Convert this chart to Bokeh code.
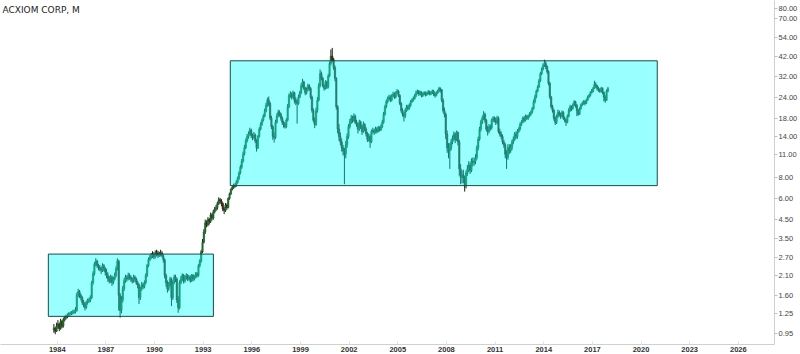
from bokeh.plotting import figure
from bokeh.models import Range1d, FixedTicker, PrintfTickFormatter, Label, ColumnDataSource
from bokeh.embed import file_html
from bokeh.resources import INLINE

title_text = "ACXIOM CORP, M"
start_year = 1983
start_month = 10
first_open = 1.00

# monthly closes, Oct 1983 .. Dec 2017
closes = [
    1.02, 0.98, 1.05,
    1.08, 1.02, 1.12, 1.05, 1.15, 1.18, 1.2, 1.22, 1.24, 1.25, 1.26, 1.27,
    1.28, 1.3, 1.62, 1.68, 1.6, 1.55, 1.45, 1.42, 1.35, 1.45, 1.48, 1.5,
    1.55, 1.9, 2.15, 2.45, 2.55, 2.4, 2.35, 2.3, 2.25, 2.4, 2.3, 2.2,
    2.1, 2.0, 1.95, 2.05, 1.9, 2.0, 2.1, 2.3, 2.55, 1.6, 1.3, 1.5,
    1.75, 1.95, 2.05, 2.0, 2.1, 2.05, 2.0, 1.95, 2.05, 2.0, 1.9, 1.85,
    1.55, 1.75, 1.85, 1.8, 1.9, 2.1, 2.4, 2.6, 2.7, 2.75, 2.8, 2.7,
    2.8, 2.85, 2.75, 2.8, 2.85, 2.75, 2.6, 2.1, 1.9, 1.75, 1.85, 2.0,
    1.55, 1.9, 2.05, 2.0, 1.5, 1.35, 1.9, 2.0, 2.1, 1.95, 2.05, 2.1,
    2.0, 2.05, 1.95, 2.1, 2.0, 2.05, 2.15, 2.1, 2.4, 2.55, 2.9, 3.3,
    3.8, 4.3, 4.2, 4.5, 4.4, 4.8, 4.6, 5.0, 5.2, 5.3, 5.6, 5.9,
    5.8, 5.6, 5.2, 5.1, 5.5, 5.3, 6.0, 6.4, 6.8, 7.0, 7.1, 7.2,
    7.5, 7.9, 8.5, 9.2, 10.0, 11.0, 12.0, 13.2, 14.0, 14.5, 15.3, 14.2,
    13.8, 14.3, 13.2, 12.0, 14.0, 15.5, 16.5, 17.5, 18.5, 19.8, 21.5, 23.0,
    22.0, 18.0, 16.0, 14.0, 13.8, 17.0, 18.5, 19.5, 19.0, 18.0, 17.0, 16.5,
    16.0, 17.5, 21.0, 24.5, 25.0, 24.0, 25.5, 23.0, 22.5, 22.0, 24.0, 25.5,
    28.0, 29.5, 27.0, 25.5, 26.5, 28.0, 27.0, 24.0, 20.0, 17.5, 16.5, 20.0,
    23.0, 28.0, 33.0, 31.0, 28.0, 27.0, 29.5, 27.5, 32.0, 38.0, 42.0, 40.0,
    36.0, 31.0, 21.0, 15.5, 14.0, 13.0, 12.0, 11.5, 11.0, 12.5, 14.0, 16.0,
    17.0, 18.0, 17.5, 18.5, 17.0, 16.5, 15.5, 17.0, 16.0, 15.0, 16.5, 15.5,
    14.5, 13.5, 14.0, 13.0, 15.0, 15.2, 14.8, 15.5, 15.0, 15.8, 15.3, 16.0,
    17.0, 19.0, 21.0, 22.5, 23.5, 24.0, 23.0, 24.5, 25.0, 24.0, 25.5, 26.0,
    24.5, 22.0, 20.0, 19.0, 18.5, 20.0, 21.0, 20.5, 21.5, 22.5, 23.0, 23.5,
    24.5, 25.5, 26.0, 25.0, 25.5, 24.5, 25.0, 25.5, 24.8, 25.3, 25.8, 25.0,
    25.5, 26.0, 25.0, 24.5, 25.5, 26.0, 27.0, 26.5, 23.0, 20.0, 19.0, 14.5,
    12.0, 11.5, 12.0, 13.0, 13.5, 14.5, 13.5, 14.8, 13.0, 9.0, 8.0, 8.3,
    8.0, 7.2, 8.5, 9.0, 9.5, 8.8, 10.0, 9.8, 10.0, 10.5, 12.0, 13.5,
    15.5, 17.0, 18.0, 19.0, 17.5, 15.5, 15.0, 16.0, 15.8, 17.5, 18.0, 17.5,
    17.0, 18.0, 15.0, 14.5, 14.0, 13.0, 12.5, 11.0, 10.5, 12.0, 11.5, 12.0,
    13.0, 13.5, 14.5, 14.0, 15.0, 15.5, 16.5, 17.0, 18.0, 17.5, 18.5, 18.0,
    18.5, 19.0, 19.5, 20.5, 22.5, 24.0, 26.0, 27.5, 30.0, 33.0, 35.0, 37.0,
    38.0, 36.5, 34.0, 29.0, 24.0, 21.0, 20.0, 18.0, 17.0, 18.5, 19.5, 19.0,
    18.5, 19.5, 18.0, 17.5, 17.0, 18.5, 20.0, 21.0, 20.5, 21.5, 22.5, 21.5,
    20.0, 19.0, 20.5, 21.5, 22.0, 22.5, 22.0, 23.0, 24.0, 24.5, 25.5, 26.0,
    27.0, 28.5, 28.0, 27.0, 26.5, 26.0, 27.0, 25.5, 24.0, 23.0, 26.0, 27.0,
]

highs = [
    1.08, 1.04, 1.1,
    1.14, 1.1, 1.16, 1.14, 1.18, 1.21, 1.23, 1.25, 1.27, 1.28, 1.29, 1.31,
    1.32, 1.36, 1.66, 1.75, 1.72, 1.64, 1.58, 1.5, 1.46, 1.49, 1.53, 1.55,
    1.6, 1.95, 2.22, 2.52, 2.65, 2.6, 2.46, 2.42, 2.36, 2.48, 2.45, 2.35,
    2.3, 2.18, 2.08, 2.12, 2.1, 2.06, 2.18, 2.38, 2.65, 2.6, 1.65, 1.58,
    1.82, 2.02, 2.12, 2.1, 2.18, 2.16, 2.1, 2.04, 2.12, 2.1, 2.04, 1.95,
    1.88, 1.8, 1.92, 1.9, 1.96, 2.16, 2.45, 2.68, 2.78, 2.85, 2.92, 2.88,
    2.95, 2.98, 2.94, 2.9, 2.98, 2.92, 2.8, 2.65, 2.15, 1.96, 1.92, 2.06,
    2.04, 1.96, 2.12, 2.12, 2.04, 1.58, 1.96, 2.08, 2.16, 2.14, 2.1, 2.16,
    2.14, 2.1, 2.1, 2.14, 2.14, 2.1, 2.2, 2.2, 2.45, 2.62, 2.98, 3.45,
    3.95, 4.5, 4.45, 4.65, 4.6, 4.95, 4.9, 5.15, 5.35, 5.5, 5.75, 6.1,
    6.05, 5.95, 5.7, 5.35, 5.65, 5.6, 6.1, 6.5, 6.9, 7.15, 7.35, 7.4,
    7.7, 8.1, 8.7, 9.5, 10.3, 11.4, 12.5, 13.6, 14.5, 15.0, 15.8, 15.6,
    14.6, 14.9, 14.6, 13.5, 14.3, 15.9, 17.0, 17.9, 19.0, 20.5, 22.2, 23.8,
    24.2, 22.5, 18.6, 16.4, 14.8, 17.6, 19.2, 20.2, 20.0, 19.4, 18.4, 17.4,
    17.0, 18.0, 21.8, 25.2, 26.0, 25.6, 26.2, 25.8, 24.0, 23.4, 24.8, 26.2,
    29.0, 30.8, 30.0, 27.6, 27.4, 28.8, 28.6, 27.5, 24.5, 20.6, 18.2, 20.8,
    24.0, 29.0, 35.0, 34.0, 31.6, 28.6, 30.2, 30.0, 33.0, 39.0, 46.0, 47.0,
    41.0, 37.0, 31.5, 21.5, 16.6, 14.8, 13.6, 12.5, 12.0, 13.2, 14.6, 16.6,
    17.8, 18.8, 18.6, 19.2, 18.9, 17.6, 16.9, 17.6, 17.4, 16.4, 17.2, 16.8,
    15.9, 14.9, 14.6, 14.4, 15.4, 15.8, 15.6, 16.0, 15.9, 16.2, 16.1, 16.5,
    17.6, 19.6, 21.6, 23.2, 24.2, 24.8, 24.6, 25.0, 25.8, 25.6, 26.0, 26.8,
    26.4, 25.0, 22.4, 20.6, 19.6, 20.6, 21.6, 21.6, 22.0, 23.0, 23.6, 24.2,
    25.0, 26.2, 26.6, 26.4, 26.2, 26.0, 25.6, 26.0, 25.9, 25.8, 26.4, 26.2,
    26.0, 26.6, 26.5, 25.6, 26.0, 26.6, 27.6, 27.4, 26.8, 23.6, 20.8, 19.4,
    15.2, 12.8, 12.8, 13.6, 14.2, 15.0, 14.8, 15.2, 15.0, 13.4, 9.6, 8.8,
    8.9, 8.2, 8.8, 9.5, 10.0, 9.8, 10.4, 10.5, 10.5, 11.0, 12.4, 14.0,
    16.0, 17.6, 18.6, 19.8, 19.4, 17.8, 16.2, 16.6, 16.5, 17.9, 18.5, 18.4,
    18.2, 18.6, 18.4, 15.6, 15.0, 14.4, 13.4, 12.8, 11.6, 12.6, 12.6, 12.6,
    13.4, 14.0, 14.9, 15.0, 15.5, 15.9, 17.0, 17.5, 18.4, 18.5, 18.9, 18.8,
    18.9, 19.5, 20.0, 21.0, 23.2, 24.8, 26.6, 28.2, 30.8, 33.8, 36.0, 38.0,
    40.0, 39.2, 37.0, 34.6, 29.6, 24.4, 21.6, 20.4, 18.4, 18.9, 20.2, 20.0,
    19.4, 20.0, 19.8, 18.4, 17.8, 18.9, 20.6, 21.6, 21.4, 22.0, 23.0, 22.8,
    21.8, 20.4, 20.9, 22.0, 22.6, 23.0, 23.0, 23.5, 24.5, 25.0, 26.0, 26.8,
    27.6, 30.0, 29.4, 28.4, 27.6, 27.0, 27.6, 27.4, 26.0, 24.6, 26.6, 27.6,
]

lows = [
    0.96, 0.94, 0.97,
    1.01, 0.98, 1.0, 1.02, 1.03, 1.12, 1.15, 1.17, 1.19, 1.21, 1.22, 1.23,
    1.24, 1.25, 1.28, 1.56, 1.54, 1.49, 1.4, 1.36, 1.3, 1.33, 1.41, 1.44,
    1.46, 1.52, 1.85, 2.1, 2.38, 2.32, 2.25, 2.22, 2.14, 2.2, 2.22, 2.1,
    2.02, 1.92, 1.88, 1.9, 1.82, 1.86, 1.96, 2.05, 2.25, 1.3, 1.18, 1.25,
    1.45, 1.7, 1.9, 1.93, 1.96, 1.98, 1.92, 1.88, 1.9, 1.92, 1.84, 1.76,
    1.42, 1.5, 1.7, 1.74, 1.76, 1.86, 2.05, 2.35, 2.55, 2.62, 2.66, 2.62,
    2.64, 2.72, 2.66, 2.7, 2.72, 2.68, 2.5, 2.02, 1.8, 1.66, 1.7, 1.8,
    1.38, 1.5, 1.86, 1.92, 1.44, 1.26, 1.32, 1.86, 1.94, 1.88, 1.9, 1.98,
    1.94, 1.96, 1.9, 1.92, 1.94, 1.96, 2.02, 2.04, 2.06, 2.34, 2.5, 2.85,
    3.25, 3.7, 4.05, 4.1, 4.2, 4.3, 4.45, 4.5, 4.9, 5.05, 5.15, 5.5,
    5.6, 5.4, 5.05, 4.85, 5.0, 5.15, 5.25, 5.9, 6.3, 6.7, 6.85, 6.95,
    7.05, 7.35, 7.75, 8.35, 9.0, 9.8, 10.8, 11.8, 12.9, 13.6, 14.2, 13.7,
    13.3, 13.5, 12.8, 11.4, 11.8, 13.8, 15.2, 16.2, 17.2, 18.2, 19.5, 21.0,
    21.2, 17.5, 15.5, 13.4, 12.9, 13.5, 16.7, 18.2, 18.4, 17.4, 16.4, 15.8,
    15.6, 15.7, 17.2, 20.6, 23.8, 23.2, 23.5, 22.0, 21.5, 16.7, 21.6, 23.6,
    25.0, 27.4, 26.4, 24.6, 24.9, 26.0, 26.2, 23.3, 19.4, 17.0, 15.7, 16.2,
    19.4, 22.6, 27.4, 30.2, 27.4, 26.2, 26.6, 26.8, 27.0, 31.5, 37.0, 38.6,
    34.8, 29.8, 20.2, 14.6, 13.2, 12.4, 11.4, 10.8, 7.3, 10.4, 12.0, 13.6,
    15.6, 16.6, 16.9, 17.1, 16.6, 16.0, 14.6, 15.1, 15.5, 14.3, 14.7, 15.0,
    14.0, 13.0, 13.1, 12.0, 12.8, 14.6, 14.3, 14.6, 14.6, 14.8, 15.0, 15.1,
    15.7, 16.7, 18.6, 20.6, 22.0, 23.0, 22.4, 22.6, 24.0, 23.4, 23.6, 25.0,
    24.0, 21.5, 19.4, 18.4, 17.2, 18.0, 19.6, 20.0, 20.2, 21.0, 22.2, 22.6,
    23.2, 24.0, 25.0, 24.4, 24.6, 23.9, 24.0, 24.6, 24.2, 24.4, 24.8, 24.6,
    24.6, 25.0, 24.4, 23.8, 24.2, 25.0, 25.6, 25.6, 22.4, 19.4, 18.2, 13.5,
    11.2, 10.4, 9.0, 11.6, 12.6, 13.2, 12.8, 13.2, 12.4, 8.2, 7.3, 7.4,
    7.4, 6.6, 6.9, 8.2, 8.6, 8.4, 8.6, 9.3, 9.4, 9.6, 10.2, 11.6,
    13.2, 15.0, 16.6, 17.6, 16.8, 15.0, 14.2, 14.6, 15.2, 15.4, 17.0, 17.0,
    16.4, 16.6, 14.6, 14.0, 13.5, 12.6, 12.0, 10.4, 9.0, 10.2, 11.0, 11.2,
    11.6, 12.6, 13.2, 13.5, 13.6, 14.7, 15.2, 16.2, 16.8, 17.0, 17.2, 17.6,
    17.6, 18.2, 18.6, 19.2, 20.2, 22.0, 23.6, 25.6, 27.2, 29.5, 32.4, 34.6,
    36.2, 35.2, 33.0, 28.2, 23.4, 20.5, 19.4, 17.4, 16.4, 16.6, 18.0, 18.4,
    17.8, 18.2, 17.6, 17.0, 16.2, 16.8, 18.2, 19.6, 19.8, 20.2, 21.2, 20.8,
    18.5, 18.6, 18.8, 20.2, 21.2, 21.6, 21.4, 21.8, 22.8, 23.6, 24.2, 25.2,
    25.6, 26.8, 27.2, 26.2, 25.8, 25.4, 25.6, 25.0, 22.6, 22.2, 22.8, 25.6,
]

# consolidation boxes (time span in years, price levels)
box_left = [1983.45, 1994.67]
box_right = [1993.63, 2021.0]
box_bottom = [1.20, 7.16]
box_top = [2.81, 39.4]

x_ticks = [1984, 1987, 1990, 1993, 1996, 1999, 2002, 2005, 2008, 2011, 2014, 2017, 2020, 2023, 2026]
y_ticks = [0.95, 1.25, 1.6, 2.1, 2.7, 3.5, 4.5, 6.0, 8.0, 11.0, 14.0, 18.0, 24.0, 32.0, 42.0, 54.0, 70.0, 80.0]

n = len(closes)
xs = [start_year + (start_month - 1 + i + 0.5) / 12.0 for i in range(n)]
opens = [first_open] + closes[:-1]
tops = [max(o, c) for o, c in zip(opens, closes)]
bottoms = [min(o, c) for o, c in zip(opens, closes)]
fills = ["#1f6a2c" if c >= o else "#3e2812" for o, c in zip(opens, closes)]

src = ColumnDataSource(dict(x=xs, high=highs, low=lows, top=tops, bottom=bottoms, fill=fills))

p = figure(width=800, height=354, y_axis_type="log", y_axis_location="right",
           x_range=Range1d(1980.5, 2028.23), y_range=Range1d(0.817, 89.8),
           output_backend="svg", toolbar_location=None,
           min_border_left=0, min_border_top=0, min_border_right=0, min_border_bottom=0)
p.outline_line_color = None
p.xgrid.grid_line_color = None
p.ygrid.grid_line_color = None
p.background_fill_color = "white"

p.segment(x0="x", y0="low", x1="x", y1="high", source=src, line_color="#141c12", line_width=1)
p.vbar(x="x", width=1 / 12.0, top="top", bottom="bottom", source=src,
       fill_color="fill", line_color="fill", line_width=0.6)

# translucent cyan boxes laid over the candles
p.quad(left=box_left, right=box_right, bottom=box_bottom, top=box_top,
       fill_color="#00ffff", fill_alpha=0.4, line_color="#1c4a4a", line_width=1)

xa = p.xaxis[0]
xa.ticker = FixedTicker(ticks=x_ticks)
xa.axis_line_color = "#d0d0d0"
xa.major_tick_line_color = "#e0e0e0"
xa.major_tick_in = 3
xa.major_tick_out = 0
xa.minor_tick_line_color = None
xa.major_label_text_font = "Liberation Sans"
xa.major_label_text_font_size = "7.5px"
xa.major_label_text_font_style = "bold"
xa.major_label_text_color = "#333333"
xa.major_label_standoff = 2

ya = p.yaxis[0]
ya.ticker = FixedTicker(ticks=y_ticks)
ya.formatter = PrintfTickFormatter(format="%.2f")
ya.axis_line_color = "#d0d0d0"
ya.major_tick_line_color = "#c0c0c0"
ya.major_tick_out = 3
ya.major_tick_in = 0
ya.minor_tick_line_color = None
ya.major_label_text_font = "Liberation Sans"
ya.major_label_text_font_size = "7.5px"
ya.major_label_text_color = "#444444"
ya.major_label_standoff = 1

p.add_layout(Label(x=2, y=340, x_units="screen", y_units="screen", text=title_text,
                   text_font="DejaVu Sans", text_font_size="9px", text_color="#222222",
                   text_baseline="top"))

open("out.html", "w").write(file_html(p, INLINE))
